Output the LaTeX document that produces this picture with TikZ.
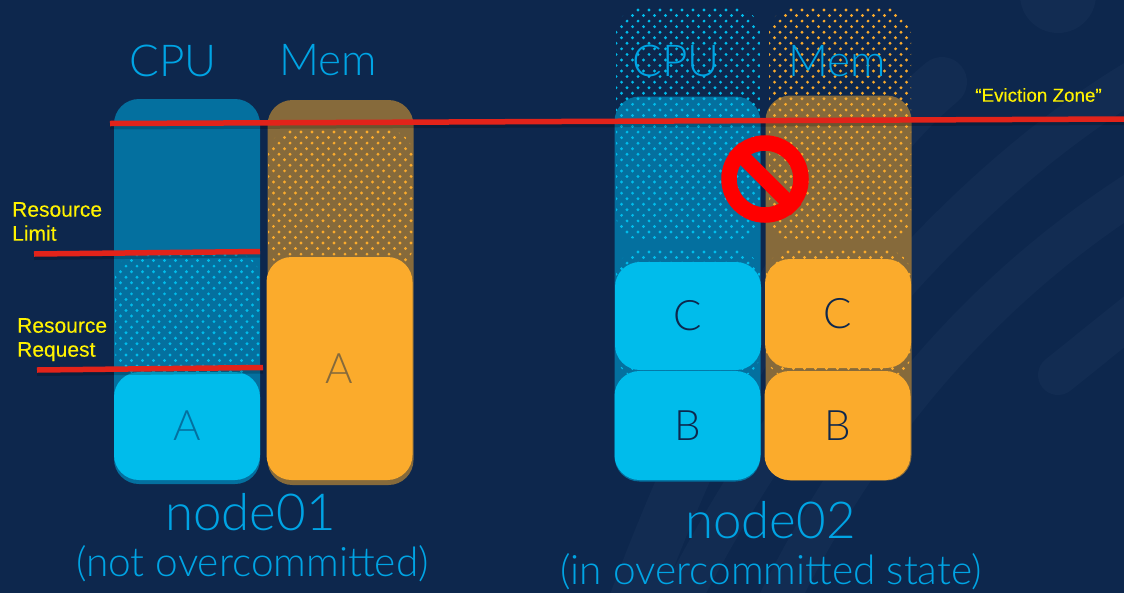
\documentclass[tikz,border=0pt]{standalone}
\usepackage{fontspec}
\usetikzlibrary{calc,positioning}
\setmainfont{Liberation Sans}
\newfontfamily\thinfont{Lato Light}
\newfontfamily\zonefont[FakeBold=0.25]{Liberation Sans}
\definecolor{bgblue}{HTML}{0D274D}
\definecolor{bgband}{HTML}{122C52}
\definecolor{cpuback}{HTML}{04709F}
\definecolor{memback}{HTML}{866A3B}
\definecolor{cpufill}{HTML}{00BCEB}
\definecolor{memfill}{HTML}{FBAB2C}
\definecolor{titleblue}{HTML}{00A4E4}
\definecolor{linered}{HTML}{E2231A}
\tikzset{
  back/.style={rectangle,rounded corners=25pt,inner sep=0pt,minimum width=146pt,minimum height=385pt},
  box/.style={rectangle,rounded corners=25pt,inner sep=0pt,minimum width=146pt,font=\thinfont\fontsize{42}{42}\selectfont},
  heading/.style={inner sep=0pt,text=titleblue,font=\thinfont\fontsize{44}{44}\selectfont},
  title/.style={inner sep=0pt,text=titleblue,font=\thinfont\fontsize{51}{51}\selectfont},
  subtitle/.style={inner sep=0pt,text=titleblue,font=\thinfont\fontsize{40.6}{41}\selectfont},
  note/.style={inner sep=0pt,anchor=north west,align=left,text=yellow,font=\zonefont\fontsize{21}{24}\selectfont},
  redline/.style={draw=linered,line width=5.5pt},
  lineshade/.style={draw=black,opacity=0.2,line width=6pt,transform canvas={yshift=-3pt}},
  band/.style={draw=bgband,line width=40pt,line cap=round},
}
% staggered dots, clipped to a rounded field
\newcommand{\dotfield}[5]{%
  \begin{scope}
    \clip[rounded corners=25pt] (#1,#2) rectangle (#3,#4);
    \foreach \r in {0,...,42} {
      \foreach \c in {0,...,14} {
        \fill[#5] ({#1+\c*11+mod(\r,2)*5.5},{#2+\r*5.55+2}) circle (1.6pt);
      }
    }
  \end{scope}
}
\begin{document}
\begin{tikzpicture}[x=1pt,y=-1pt]
	\useasboundingbox (0,0) rectangle (1124,592);
	\fill[bgblue] (-3,-3) rectangle (1127,595);
	% background
	\begin{scope}
	  \clip (-3,-3) rectangle (1127,595);
	  \fill[bgband] (1058,-5) circle (38);
	  \draw[band,line width=50pt] (942,82) .. controls (860,150) and (730,330) .. (620,640);
	  \draw[band] (1170,60) .. controls (1000,150) and (800,350) .. (660,640);
	  \draw[band] (1170,170) .. controls (1000,270) and (860,420) .. (760,640);
	  \draw[band] (1170,285) -- (1058,375);
	\end{scope}
	% node01
	\node[back,fill=cpuback] (cpu1) at (187,291.5) {};
	\node[back,fill=memback] (mem1) at (340.5,292.5) {};
	\dotfield{115}{253}{260}{376}{cpufill}
	\dotfield{268}{130}{413}{270}{memfill}
	\node[box,fill=cpufill,minimum height=108pt,text=cpuback] (a1) at (187,426) {A};
	\node[box,fill=memfill,minimum height=223pt,text=memback] (a2) at (339.5,368.5) {A};
	% node02
	\node[back,fill=cpuback] (cpu2) at (687.5,289) {};
	\node[back,fill=memback] (mem2) at (838.5,288) {};
	\dotfield{616}{8}{760}{240}{cpufill}
	\dotfield{769}{8}{911}{240}{memfill}
	\dotfield{616}{250}{760}{378}{cpufill}
	\dotfield{766}{250}{911}{378}{memfill}
	\node[box,fill=cpufill,minimum height=108pt,text=bgblue] (c1) at (688,316) {C};
	\node[box,fill=cpufill,minimum height=109pt,text=bgblue] (b1) at (687.5,425.5) {B};
	\node[box,fill=memfill,minimum height=109pt,text=bgblue] (c2) at (838,313.5) {C};
	\node[box,fill=memfill,minimum height=109pt,text=bgblue] (b2) at (837.5,425.5) {B};
	% labels
	\node[heading] (cpuname1) at (173,61) {CPU};
	\node[heading] (memname1) at (328,60) {Mem};
	\node[heading] (cpuname2) at (676,61) {CPU};
	\node[heading] (memname2) at (837,61) {Mem};
	\node[title] (node01) at (250.5,512) {node01};
	\node[subtitle] (over01) at (252.5,564) {(not overcommitted)};
	\node[title] (node02) at (770.5,520) {node02};
	\node[subtitle] (over02) at (771,571.5) {(in overcommitted state)};
	\node[note] (limit) at (12,202) {Resource\\Limit};
	\node[note] (request) at (17,318) {Resource\\Request};
	\node[inner sep=0pt,text=yellow,font=\zonefont\fontsize{18.8}{19}\selectfont] (zone) at (1038.5,95) {“Eviction Zone”};
	% red lines
	\coordinate (zoneL) at (110,123.5);
	\coordinate (zoneR) at (1124,119);
	\coordinate (limitL) at (34,254);
	\coordinate (limitR) at (260,251.5);
	\coordinate (requestL) at (37,370);
	\coordinate (requestR) at (263,367.5);
	\draw[lineshade] (zoneL) -- (zoneR);
	\draw[lineshade] (limitL) -- (limitR);
	\draw[lineshade] (requestL) -- (requestR);
	\draw[redline] (zoneL) -- (zoneR);
	\draw[redline] (limitL) -- (limitR);
	\draw[redline] (requestL) -- (requestR);
	% no entry sign
	\node[circle,draw=red,line width=15.5pt,minimum size=72pt,inner sep=0pt] (stop) at (765,179) {};
	\draw[red,line width=15pt] (stop.135) -- (stop.-45);
\end{tikzpicture}
\end{document}
